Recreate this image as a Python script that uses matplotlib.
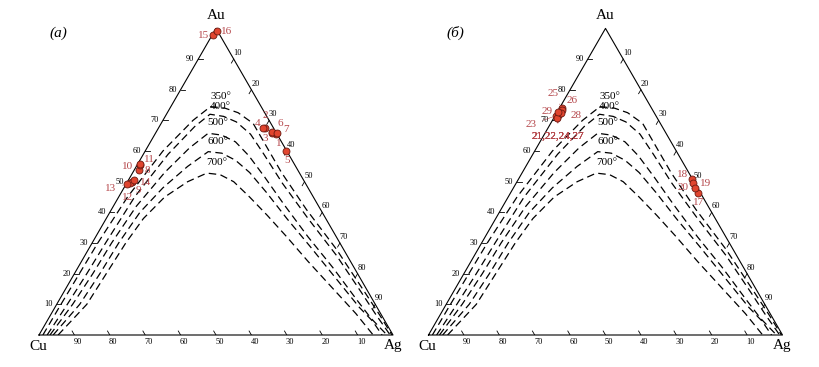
import numpy as np
import matplotlib.pyplot as plt

plt.rcParams['font.family'] = ['Liberation Serif', 'DejaVu Serif']

# isotherms of the Au-Ag-Cu miscibility gap, (Ag %, Au %) pairs
iso_temps = ['350°', '400°', '500°', '600°', '700°']
iso_ag = [
    [1.1, 1.2, 1.4, 1.6, 2.5, 5, 8.5, 11.2, 15.5, 20, 26, 33, 42, 55, 70, 85, 93, 99.7],
    [2.3, 3, 3.5, 3.8, 4.5, 7, 10, 12.3, 16.5, 21, 27, 34, 44, 57, 71, 84, 92, 99.2],
    [3.1, 4.5, 5.2, 5.5, 6.5, 9, 12, 14.9, 19, 24, 30, 38, 48, 60, 72, 84, 91, 98.3],
    [4, 6.5, 7.2, 7.5, 8.5, 11, 14.5, 17.9, 22, 27, 33, 41, 51, 62, 74, 86, 92, 96.9],
    [5.4, 8.5, 9, 9.5, 10.5, 13, 17, 21, 25, 30, 37, 45, 54, 64, 75, 86, 94.4],
]
iso_au = [
    [0, 10, 20, 30, 45, 60, 70, 74.5, 74, 72.5, 69, 62, 53, 41, 28, 14, 6.5, 0],
    [0, 10, 20, 30, 45, 59, 68, 72, 71.3, 69.5, 65.5, 59, 49.5, 38, 26, 14, 6.5, 0],
    [0, 10, 20, 30, 42, 53, 61, 65.8, 65.2, 63, 58.5, 51.5, 42.5, 32, 22, 11.5, 5.5, 0],
    [0, 10, 20, 30, 40, 48, 55, 59.8, 59.3, 57, 53, 46.5, 38, 29, 19, 9, 4.5, 0],
    [0, 10, 20, 30, 38, 45, 50, 52.8, 52.3, 50, 45, 39, 32, 24, 15.5, 7, 0],
]

# panel (а) samples
a_names = ['1', '2', '3', '4', '5', '6', '7', '8', '9', '10', '11', '12', '13', '14', '15', '16']
a_ag = [34.1, 30.0, 32.7, 29.5, 39.7, 32.8, 34.2, 1.4, 1.2, 0.7, 0.8, 0.9, 0.3, 1.7, 0.2, 0.6]
a_au = [65.5, 67.6, 66.0, 67.4, 60.1, 66.2, 65.8, 53.8, 50.0, 55.4, 55.7, 49.7, 49.2, 50.5, 97.8, 99.1]

# panel (б) samples
b_names = ['17', '18', '19', '20', '21', '22', '23', '24', '25', '26', '27', '28', '29']
b_ag = [53.0, 48.9, 50.0, 51.4, 0.8, 0.6, 0.2, 0.9, 0.7, 1.0, 1.0, 1.2, 0.3]
b_au = [46.4, 50.8, 49.5, 47.8, 71.0, 71.8, 71.5, 72.2, 74.0, 73.5, 70.8, 72.5, 72.8]

tick_vals = [10, 20, 30, 40, 50, 60, 70, 80, 90]

# label offsets in pixels (right, down)
a_off = [(3, 9), (0, -12), (-6, 6), (-5, -5), (1, 10), (8, -9), (10, -4), (8, 0),
         (7, 9), (-12, 1), (9, -5), (-3, 15), (-17, 4), (11, 2), (-9, 0), (10, 0)]
b_off = {'17': (0, 10), '18': (-9, -5), '19': (12, 0), '20': (-12, -1),
         '23': (-25, 9), '25': (-9, -15), '26': (10, -9), '28': (15, 3), '29': (-11, 0)}
b_group = ['21', '22', '24', '27']

S3 = np.sqrt(3) / 2
RED = '#b5474b'


def tern(ag, au):
    ag = np.asarray(ag, float) / 100
    au = np.asarray(au, float) / 100
    return ag + au / 2, au * S3


def frame(ax):
    ax.set_xlim(0, 1)
    ax.set_ylim(0, S3)
    ax.axis('off')
    ax.plot([0, 1, 0.5, 0], [0, 0, S3, 0], color='k', lw=0.8, clip_on=False)
    tl = 0.013
    for v in tick_vals:
        t = v / 100
        # bottom: Cu %
        x0 = 1 - t
        ax.plot([x0, x0 - 0.5 * tl], [0, S3 * tl], color='k', lw=0.6)
        ax.annotate(str(v), (x0, 0), xytext=(3.5, -6.5), textcoords='offset pixels',
                    ha='center', va='center', fontsize=6)
        # left: Au %
        x1, y1 = t / 2, t * S3
        ax.plot([x1, x1 + tl], [y1, y1], color='k', lw=0.6)
        ax.annotate(str(v), (x1, y1), xytext=(-8, 0), textcoords='offset pixels',
                    ha='center', va='center', fontsize=6)
        # right: Ag %
        x2, y2 = 1 - (1 - t) / 2, (1 - t) * S3
        ax.plot([x2, x2 - 0.5 * tl], [y2, y2 - S3 * tl], color='k', lw=0.6)
        ax.annotate(str(v), (x2, y2), xytext=(4, 6), textcoords='offset pixels',
                    ha='center', va='center', fontsize=6)
    for lab, xy, off in [('Au', (0.5, S3), (0, 13)), ('Cu', (0, 0), (-1, -11)), ('Ag', (1, 0), (0, -11))]:
        ax.annotate(lab, xy, xytext=off, textcoords='offset pixels',
                    ha='center', va='center', fontsize=11)
    for i, temp in enumerate(iso_temps):
        x, y = tern(iso_ag[i], iso_au[i])
        ax.plot(x, y, color='k', lw=0.9, ls=(0, (6, 3.5)))
        k = int(np.argmax(y))
        ax.annotate(temp, (x[k], y[k]), xytext=(10, 3 if temp == '400°' else 6),
                    textcoords='offset pixels', ha='center', va='bottom', fontsize=8)


def dots(ax, ag, au):
    x, y = tern(ag, au)
    ax.plot(x, y, 'o', ms=5, mfc='#e0452f', mec='#6b1a12', mew=0.6, zorder=5, clip_on=False)
    return x, y


def label(ax, text, xy, off):
    ax.annotate(text, xy, xytext=(off[0], -off[1]), textcoords='offset pixels',
                ha='center', va='center', fontsize=8, color=RED,
                arrowprops=dict(arrowstyle='-', color=RED, lw=0.4, shrinkA=3, shrinkB=3))


fig = plt.figure(figsize=(8.2, 3.67), dpi=100)
w, h = 354 / 820, 306.6 / 367
ax1 = fig.add_axes([39 / 820, 32 / 367, w, h])
ax2 = fig.add_axes([428.5 / 820, 32 / 367, w, h])

frame(ax1)
x, y = dots(ax1, a_ag, a_au)
for i, n in enumerate(a_names):
    label(ax1, n, (x[i], y[i]), a_off[i])

frame(ax2)
x, y = dots(ax2, b_ag, b_au)
for i, n in enumerate(b_names):
    if n in b_off:
        label(ax2, n, (x[i], y[i]), b_off[n])
k = b_names.index('22')
anchor = ax2.transData.transform((x[k], y[k])) + np.array([0, -21])
anchor = ax2.transData.inverted().transform(anchor)
for n in b_group:
    j = b_names.index(n)
    ax2.annotate(','.join(b_group), (x[j], y[j]), xytext=anchor,
                 ha='center', va='center', fontsize=8, color=RED,
                 arrowprops=dict(arrowstyle='-', color=RED, lw=0.4, shrinkA=4, shrinkB=3))

fig.text(58 / 820, 1 - 33 / 367, '(а)', style='italic', fontsize=11, ha='center', va='center')
fig.text(455 / 820, 1 - 33 / 367, '(б)', style='italic', fontsize=11, ha='center', va='center')

fig.savefig('out.png', dpi=100, facecolor='white')
